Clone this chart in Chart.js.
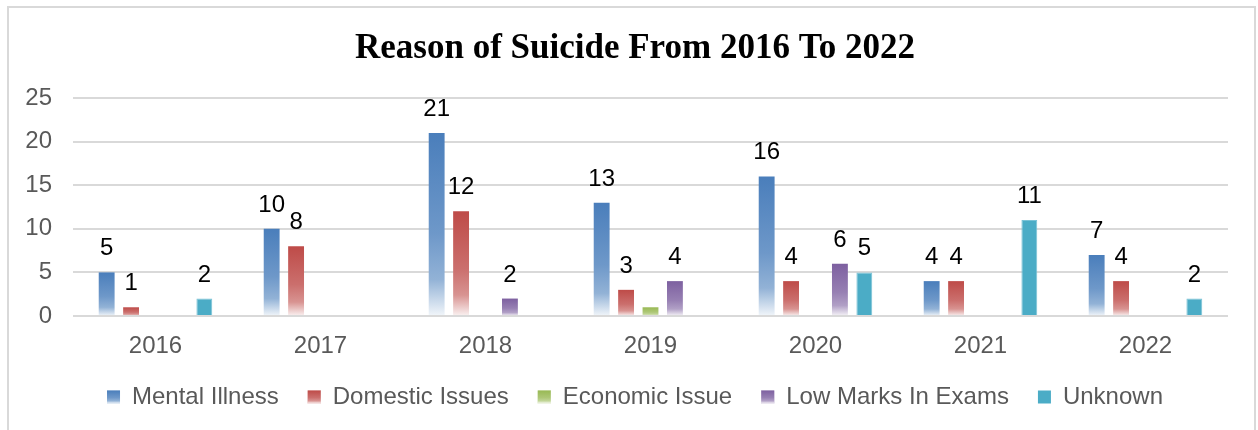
<!DOCTYPE html>
<html>
<head>
<meta charset="utf-8">
<title>Reason of Suicide From 2016 To 2022</title>
<script src="https://cdn.jsdelivr.net/npm/chart.js@4/dist/chart.umd.min.js"></script>
<style>
  html, body { margin: 0; padding: 0; background: #fff; }
  #wrap { position: relative; width: 1258px; height: 430px; overflow: hidden; }
  #frame {
    position: absolute; left: 7px; top: 6px; width: 1249px; height: 440px;
    border: 2px solid #d9d9d9; box-sizing: border-box;
  }
  #chart { position: absolute; left: 0; top: 0; }
</style>
</head>
<body>
<div id="wrap">
  <div id="frame"></div>
  <canvas id="chart" width="1258" height="430"></canvas>
</div>
<script>
const years = ["2016", "2017", "2018", "2019", "2020", "2021", "2022"];
const mentalIllness = [5, 10, 21, 13, 16, 4, 7];
const domesticIssues = [1, 8, 12, 3, 4, 4, 4];
const economicIssue = [0, 0, 0, 1, 0, 0, 0];
const lowMarks = [0, 0, 2, 4, 6, 0, 0];
const unknown = [2, 0, 0, 0, 5, 11, 2];
const yTicks = [0, 5, 10, 15, 20, 25];

const seriesColors = ["#4A7EBB", "#BE4B48", "#98B954", "#7D60A0", "#4BACC6"];
const sansFont = "'Liberation Sans', Arial, sans-serif";
const tickFont = { family: sansFont, size: 24 };

// Widest y tick label, so the mirrored labels can sit right-aligned left of the plot
const measureCtx = document.createElement("canvas").getContext("2d");
measureCtx.font = "24px " + sansFont;
const yLabelWidth = Math.max(...yTicks.map((v) => measureCtx.measureText(String(v)).width));
const yLabelGap = 21;

// Blend a hex colour towards white (t = 0 keeps it, t = 1 is white)
function tint(hex, t) {
  const n = parseInt(hex.slice(1), 16);
  const r = (n >> 16) & 255, g = (n >> 8) & 255, b = n & 255;
  const mix = (c) => Math.round(c + (255 - c) * t);
  return `rgb(${mix(r)}, ${mix(g)}, ${mix(b)})`;
}

function fadeGradient(c, color, top, bottom) {
  const g = c.createLinearGradient(0, top, 0, bottom);
  g.addColorStop(0, color);
  g.addColorStop(0.55, tint(color, 0.2));
  g.addColorStop(0.8, tint(color, 0.4));
  g.addColorStop(1, tint(color, 0.93));
  return g;
}

// Per-bar vertical fade: full colour at the top, washing out to white at the base
function fadeFill(color) {
  return (ctx) => {
    const chart = ctx.chart;
    const { chartArea, scales } = chart;
    if (!chartArea || ctx.type !== "data") return color;
    const top = scales.y.getPixelForValue(ctx.raw);
    const base = scales.y.getPixelForValue(0);
    if (!(base > top)) return color;
    return fadeGradient(chart.ctx, color, top, base);
  };
}

// Numbers above the bars (zero values are skipped)
const valueLabels = {
  id: "valueLabels",
  afterDatasetsDraw(chart) {
    const c = chart.ctx;
    c.save();
    c.font = "24px " + sansFont;
    c.fillStyle = "#000";
    c.textAlign = "center";
    c.textBaseline = "alphabetic";
    chart.data.datasets.forEach((ds, i) => {
      if (ds.showValues === false) return;
      chart.getDatasetMeta(i).data.forEach((bar, j) => {
        const v = ds.data[j];
        if (!v) return;
        c.fillText(String(v), bar.x, bar.y - 17);
      });
    });
    c.restore();
  },
};

// Repaint the legend swatches with the same fade as the bars
const legendFade = {
  id: "legendFade",
  afterDraw(chart) {
    const legend = chart.legend;
    if (!legend || !legend.legendHitBoxes) return;
    const c = chart.ctx;
    legend.legendHitBoxes.forEach((hb, i) => {
      if (!chart.data.datasets[i].faded) return;
      const size = 13;
      const y = hb.top + (hb.height - size) / 2;
      c.fillStyle = "#fff";
      c.fillRect(hb.left, y, size, size);
      c.fillStyle = fadeGradient(c, seriesColors[i], y, y + size);
      c.fillRect(hb.left, y, size, size);
    });
  },
};

const ctx = document.getElementById("chart");
const chart = new Chart(ctx, {
  type: "bar",
  data: {
    labels: years,
    datasets: [
      { label: "Mental Illness", data: mentalIllness, backgroundColor: fadeFill(seriesColors[0]), faded: true },
      { label: "Domestic Issues", data: domesticIssues, backgroundColor: fadeFill(seriesColors[1]), faded: true },
      { label: "Economic Issue", data: economicIssue, backgroundColor: fadeFill(seriesColors[2]), faded: true, showValues: false },
      { label: "Low Marks In Exams", data: lowMarks, backgroundColor: fadeFill(seriesColors[3]), faded: true },
      {
        label: "Unknown",
        data: unknown,
        backgroundColor: seriesColors[4],
        borderColor: "#79C2D6",
        borderWidth: 1,
      },
    ],
  },
  options: {
    responsive: false,
    animation: false,
    categoryPercentage: 0.74,
    barPercentage: 0.65,
    layout: { padding: { left: 42, right: 30, top: 0, bottom: 11 } },
    plugins: {
      title: {
        display: true,
        text: "Reason of Suicide From 2016 To 2022",
        color: "#000",
        font: { family: "'Liberation Serif', 'Times New Roman', serif", size: 35, weight: "bold" },
        padding: { top: 28, bottom: 28 },
      },
      legend: {
        position: "bottom",
        labels: {
          boxWidth: 13,
          boxHeight: 13,
          padding: 29,
          color: "#595959",
          font: { family: sansFont, size: 24 },
          generateLabels: (chart) =>
            chart.data.datasets.map((ds, i) => ({
              text: ds.label,
              fillStyle: seriesColors[i],
              strokeStyle: seriesColors[i],
              lineWidth: 0,
              fontColor: "#595959",
              datasetIndex: i,
              hidden: !chart.isDatasetVisible(i),
            })),
        },
      },
      tooltip: { enabled: false },
    },
    scales: {
      x: {
        grid: { display: false, drawTicks: false },
        border: { display: false },
        ticks: { color: "#595959", font: tickFont, padding: 16 },
        afterFit: (s) => { s.height = 40; },
      },
      y: {
        min: 0,
        max: 25,
        afterBuildTicks: (s) => { s.ticks = yTicks.map((v) => ({ value: v })); },
        grid: { color: "#d9d9d9", lineWidth: 2, drawTicks: false },
        border: { display: false },
        ticks: {
          color: "#595959",
          font: tickFont,
          mirror: true,
          crossAlign: "far",
          padding: -(yLabelGap + yLabelWidth),
        },
        afterFit: (s) => { s.width = 31; },
      },
    },
  },
  plugins: [valueLabels, legendFade],
});
</script>
</body>
</html>
